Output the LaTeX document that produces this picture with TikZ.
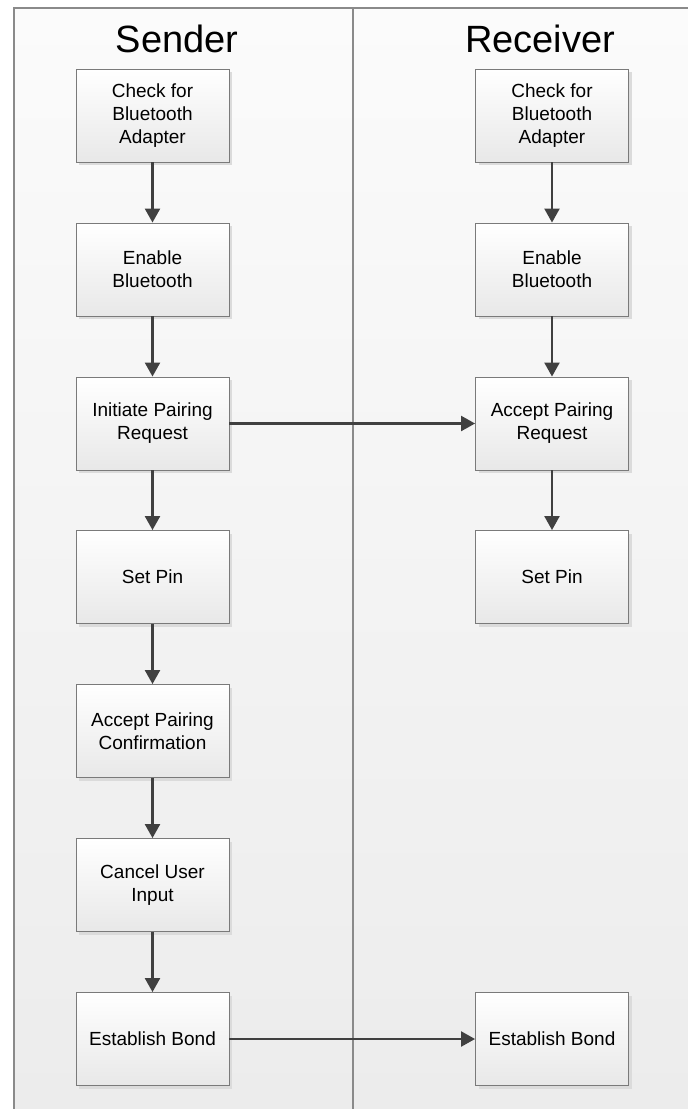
\documentclass[tikz,border=0pt]{standalone}
\usepackage{fontspec}
\setmainfont{Liberation Sans}
\usetikzlibrary{arrows.meta,shadows}
\definecolor{framec}{HTML}{8A8A8A}
\definecolor{boxline}{HTML}{7A7A7A}
\definecolor{arrowc}{HTML}{404040}
\definecolor{bgtop}{HTML}{FBFBFB}
\definecolor{bgbot}{HTML}{ECECEC}
\definecolor{boxbot}{HTML}{E8E8E8}
\begin{document}
\begin{tikzpicture}[x=1pt,y=1pt,
 stepbox/.style={draw=boxline, line width=0.9pt, top color=white, bottom color=boxbot,
   minimum width=153pt, minimum height=93pt, inner sep=0pt, align=center,
   font=\fontsize{19}{23}\selectfont,
   drop shadow={shadow xshift=3pt, shadow yshift=-3pt, fill=black!14, opacity=1}},
 flow/.style={draw=arrowc, line width=2.3pt, -{Triangle[length=14pt,width=15pt]}},
 lane/.style={draw=framec, line width=1.3pt},
 header/.style={font=\fontsize{38}{44}\selectfont, inner sep=0pt}]
\useasboundingbox (0,0) rectangle (688,-1109);
\shade[top color=bgtop,bottom color=bgbot] (14,-8) rectangle (688,-1109);
\draw[lane] (14,-1109) -- (14,-8) -- (688,-8);
\draw[lane] (353,-8) -- (353,-1109);
\node[header] (hs) at (177,-38.5) {Sender};
\node[header] (hr) at (540,-38.5) {Receiver};
% sender
\node[stepbox] (s1) at (152.5,-115.5) {Check for\\Bluetooth\\Adapter};
\node[stepbox] (s2) at (152.5,-269.5) {Enable\\Bluetooth};
\node[stepbox] (s3) at (152.5,-423.5) {Initiate Pairing\\Request};
\node[stepbox] (s4) at (152.5,-577) {Set Pin};
\node[stepbox] (s5) at (152.5,-731) {Accept Pairing\\Confirmation};
\node[stepbox] (s6) at (152.5,-885) {Cancel User\\Input};
\node[stepbox] (s7) at (152.5,-1039) {Establish Bond};
% receiver
\node[stepbox] (r1) at (552,-115.5) {Check for\\Bluetooth\\Adapter};
\node[stepbox] (r2) at (552,-269.5) {Enable\\Bluetooth};
\node[stepbox] (r3) at (552,-423.5) {Accept Pairing\\Request};
\node[stepbox] (r4) at (552,-577) {Set Pin};
\node[stepbox] (r7) at (552,-1039) {Establish Bond};
% connectors
\draw[flow] (s1) -- (s2);
\draw[flow] (s2) -- (s3);
\draw[flow] (s3) -- (s4);
\draw[flow] (s4) -- (s5);
\draw[flow] (s5) -- (s6);
\draw[flow] (s6) -- (s7);
\draw[flow] (r1) -- (r2);
\draw[flow] (r2) -- (r3);
\draw[flow] (r3) -- (r4);
\draw[flow] (s3) -- (r3);
\draw[flow] (s7) -- (r7);
\end{tikzpicture}
\end{document}
